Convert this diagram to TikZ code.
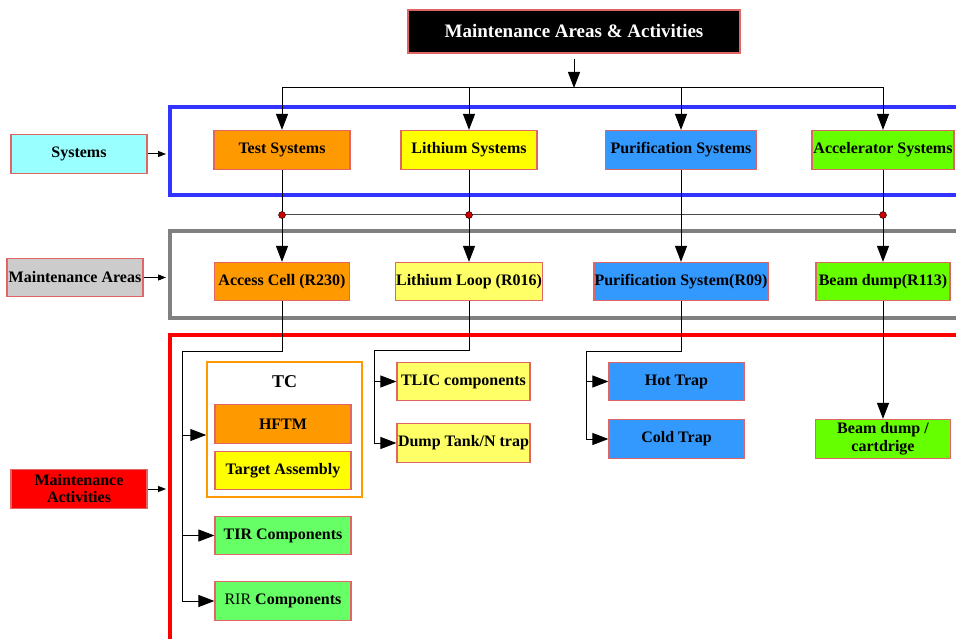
\documentclass[tikz,border=0pt]{standalone}
\usepackage{fontspec}
\setmainfont{Liberation Serif}
\usetikzlibrary{arrows.meta}
\definecolor{orng}{HTML}{FF9900}
\definecolor{yel}{HTML}{FFFF00}
\definecolor{ltyel}{HTML}{FFFF66}
\definecolor{blu}{HTML}{3399FF}
\definecolor{grn}{HTML}{66FF00}
\definecolor{ltgrn}{HTML}{66FF66}
\definecolor{cyn}{HTML}{99FFFF}
\definecolor{boxred}{HTML}{E06666}
\definecolor{frblue}{HTML}{3333FF}
\begin{document}
\begin{tikzpicture}[x=1pt, y=-1pt, font=\bfseries\fontsize{16}{17}\selectfont,
    box/.style={draw=boxred, line width=1.2pt, minimum height=39pt, inner sep=0pt},
    frame/.style={line width=4pt, minimum width=820pt},
    arr/.style={-{Triangle[length=16pt,width=12pt]}, line width=1pt},
    small/.style={-{Triangle[length=8pt,width=6pt]}, line width=1pt, shorten >=2pt},
    dot/.style={circle, fill=red!80!black, draw=black, inner sep=0pt, minimum size=7pt}]
    \clip (0,0) rectangle (956,639);
    \fill[white] (0,0) rectangle (956,639);
    \node[frame, draw=frblue, minimum height=88pt] (sysframe) at (580,151) {};
    \node[frame, draw=gray, minimum height=87pt] (areaframe) at (580,274.5) {};
    \node[frame, draw=red, minimum height=340pt] (actframe) at (580,505) {};
    \node[box, fill=black, text=white, minimum width=332pt, minimum height=43pt,
        font=\bfseries\fontsize{19}{20}\selectfont] (title) at (574,31.5) {Maintenance Areas \& Activities};
    \foreach \n/\x/\w/\c/\t in {test/282/136pt/orng/Test Systems, lith/469/136pt/yel/Lithium Systems,
        puri/681/151pt/blu/Purification Systems, acc/883/142pt/grn/Accelerator Systems}
        \node[box, fill=\c, minimum width=\w] (\n) at (\x,150) {\t};
    \foreach \n/\x/\w/\c/\t in {access/282/135pt/orng/Access Cell (R230), loop/469/147pt/ltyel/Lithium Loop (R016),
        pursys/681/174pt/blu/Purification System(R09), dump/883/134pt/grn/Beam dump(R113)}
        \node[box, fill=\c, minimum width=\w, minimum height=38pt] (\n) at (\x,281.5) {\t};
    \node[box, fill=cyn, minimum width=136pt] (sys) at (79,154) {Systems};
    \node[box, fill=gray!40, minimum width=136pt, minimum height=38pt] (areas) at (75,277.5) {Maintenance Areas};
    \node[box, fill=red, minimum width=136pt, align=center] (act) at (79,489) {Maintenance\\Activities};
    \node[draw=orng, line width=1.5pt, fill=white, minimum width=155pt, minimum height=135pt] (tc) at (284.5,429.5) {};
    \node[font=\bfseries\fontsize{18}{18}\selectfont] (tclabel) at (284.5,382) {TC};
    \node[box, fill=orng, minimum width=136pt] (hftm) at (283,424) {HFTM};
    \node[box, fill=yel, minimum width=136pt, minimum height=38pt] (target) at (283,470.5) {Target Assembly};
    \node[box, fill=ltgrn, minimum width=136pt, minimum height=38pt] (tir) at (283,535.5) {TIR Components};
    \node[box, fill=ltgrn, minimum width=136pt] (rir) at (283,601) {\textmd{RIR} Components};
    \node[box, fill=ltyel, minimum width=133pt, minimum height=38pt] (tlic) at (463.5,381.5) {TLIC components};
    \node[box, fill=ltyel, minimum width=133pt] (tank) at (463.5,443) {Dump Tank/N trap};
    \node[box, fill=blu, minimum width=135pt, minimum height=38pt] (hot) at (676.5,381.5) {Hot Trap};
    \node[box, fill=blu, minimum width=135pt] (cold) at (676.5,439) {Cold Trap};
    \node[box, fill=grn, minimum width=135pt, align=center, font=\bfseries\fontsize{16}{18}\selectfont]
        (cart) at (883,439) {Beam dump /\\cartdrige};
    \coordinate (bus) at (574,88);
    \coordinate (rail) at (0,215);
    \coordinate (acbend) at (182,351);
    \coordinate (lpbend) at (374,350);
    \coordinate (pubend) at (586,351);
    \draw[arr, shorten <=5pt] (title) -- (bus);
    \foreach \n in {test,lith,puri,acc}
        \draw[arr] (bus) -| (\n);
    \draw[line width=1pt, black!70] (test |- rail) -- (acc |- rail);
    \foreach \s/\m in {test/access, lith/loop, acc/dump}{
        \draw[line width=1pt] (\s) -- (\s |- rail);
        \draw[arr] (\s |- rail) -- (\m);
        \node[dot] (d\s) at (\s |- rail) {};
    }
    \draw[arr] (puri) -- (pursys);
    \draw[line width=1pt] (access) |- (acbend);
    \draw[arr] (acbend) |- ([yshift=-5.5pt]tc.west);
    \foreach \n in {tir,rir}
        \draw[arr] (acbend) |- (\n);
    \draw[line width=1pt] (loop) |- (lpbend);
    \foreach \n in {tlic,tank}
        \draw[arr] (lpbend) |- (\n);
    \draw[line width=1pt] (pursys) |- (pubend);
    \foreach \n in {hot,cold}
        \draw[arr] (pubend) |- (\n);
    \draw[arr] (dump) -- (cart);
    \draw[small] (sys) -- (sys -| sysframe.west);
    \draw[small] (areas) -- (areas -| areaframe.west);
    \draw[small] (act) -- (act -| actframe.west);
\end{tikzpicture}
\end{document}
